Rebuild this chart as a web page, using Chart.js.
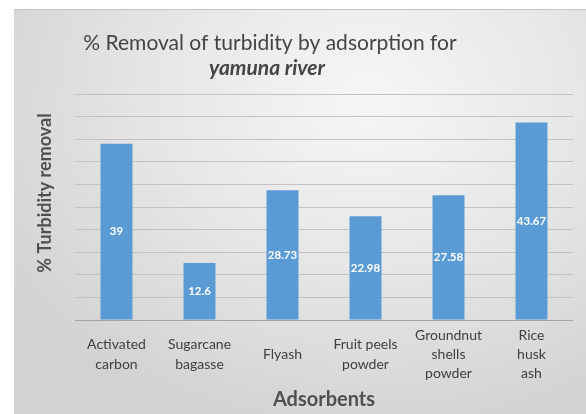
<!DOCTYPE html>
<html>
<head>
<meta charset="utf-8">
<script src="https://cdn.jsdelivr.net/npm/chart.js@4.4.1/dist/chart.umd.min.js"></script>
<style>
    html, body { margin: 0; padding: 0; background: #fff; }
    #wrap { position: relative; width: 586px; height: 414px; }
    #bg {
        position: absolute; left: 14px; top: 9px; right: 0; bottom: 0;
        border-top: 1px solid #c4c4c4;
        background: radial-gradient(ellipse 75% 85% at 62% 22%, #f6f6f6 0%, #e8e8e8 45%, #d2d2d2 100%);
    }
    canvas { position: absolute; left: 0; top: 0; }
</style>
</head>
<body>
<div id="wrap">
    <div id="bg"></div>
    <canvas id="turbidityChart" width="586" height="414"></canvas>
</div>
<script>
const adsorbents = [
    ['Activated', 'carbon'],
    ['Sugarcane', 'bagasse'],
    'Flyash',
    ['Fruit peels', 'powder'],
    ['Groundnut', 'shells', 'powder'],
    ['Rice', 'husk', 'ash']
];
const removalValues = [39, 12.6, 28.73, 22.98, 27.58, 43.67];
const titleLines = ['% Removal of turbidity by adsorption for', 'yamuna river'];
const yAxisTitle = '% Turbidity removal';

const FONT = 'Lato, "Open Sans", sans-serif';

// draws the value inside the middle of each bar
const barValueLabels = {
    id: 'barValueLabels',
    afterDatasetsDraw(chart) {
        const ctx = chart.ctx;
        const meta = chart.getDatasetMeta(0);
        ctx.save();
        ctx.font = 'bold 11.5px ' + FONT;
        ctx.fillStyle = '#ffffff';
        ctx.textAlign = 'center';
        ctx.textBaseline = 'middle';
        meta.data.forEach((bar, i) => {
            const v = chart.data.datasets[0].data[i];
            ctx.fillText(String(v), bar.x, (bar.y + bar.base) / 2);
        });
        ctx.restore();
    }
};

// two-line title (second line bold italic) and the y axis title
const chartHeading = {
    id: 'chartHeading',
    afterDraw(chart) {
        const ctx = chart.ctx;
        ctx.save();
        ctx.fillStyle = '#444444';
        ctx.textAlign = 'center';
        ctx.textBaseline = 'middle';
        ctx.font = '21px ' + FONT;
        ctx.fillText(titleLines[0], 270, 43);
        ctx.font = 'italic bold 21px ' + FONT;
        ctx.fillText(titleLines[1], 267, 68);

        ctx.fillStyle = '#505050';
        ctx.font = 'bold 18px ' + FONT;
        ctx.translate(45, 193);
        ctx.rotate(-Math.PI / 2);
        ctx.fillText(yAxisTitle, 0, 0);
        ctx.restore();
    }
};

new Chart(document.getElementById('turbidityChart'), {
    type: 'bar',
    data: {
        labels: adsorbents,
        datasets: [{
            label: yAxisTitle,
            data: removalValues,
            backgroundColor: '#5b9bd5',
            barPercentage: 0.385,
            categoryPercentage: 1
        }]
    },
    options: {
        responsive: false,
        animation: false,
        layout: { padding: { left: 14, top: 94, right: 13, bottom: 0 } },
        plugins: {
            legend: { display: false },
            tooltip: { enabled: false }
        },
        scales: {
            x: {
                afterFit: (scale) => { scale.height = 94; },
                grid: { display: false },
                border: { display: false },
                ticks: {
                    color: '#404040',
                    font: { family: FONT, size: 14, lineHeight: 1.39 },
                    padding: 7,
                    crossAlign: 'center',
                    maxRotation: 0,
                    autoSkip: false
                },
                title: {
                    display: true,
                    text: 'Adsorbents',
                    color: '#505050',
                    font: { family: FONT, size: 20, weight: 'bold' },
                    padding: { top: 0, bottom: 2 }
                }
            },
            y: {
                min: 0,
                max: 50,
                afterFit: (scale) => { scale.width = 61; },
                border: { display: false },
                grid: {
                    drawTicks: false,
                    color: (c) => c.index === 0 ? '#a4a4a4' : '#c2c2c2',
                    lineWidth: 1
                },
                ticks: { display: false, stepSize: 5 }
            }
        }
    },
    plugins: [barValueLabels, chartHeading]
});
</script>
</body>
</html>
